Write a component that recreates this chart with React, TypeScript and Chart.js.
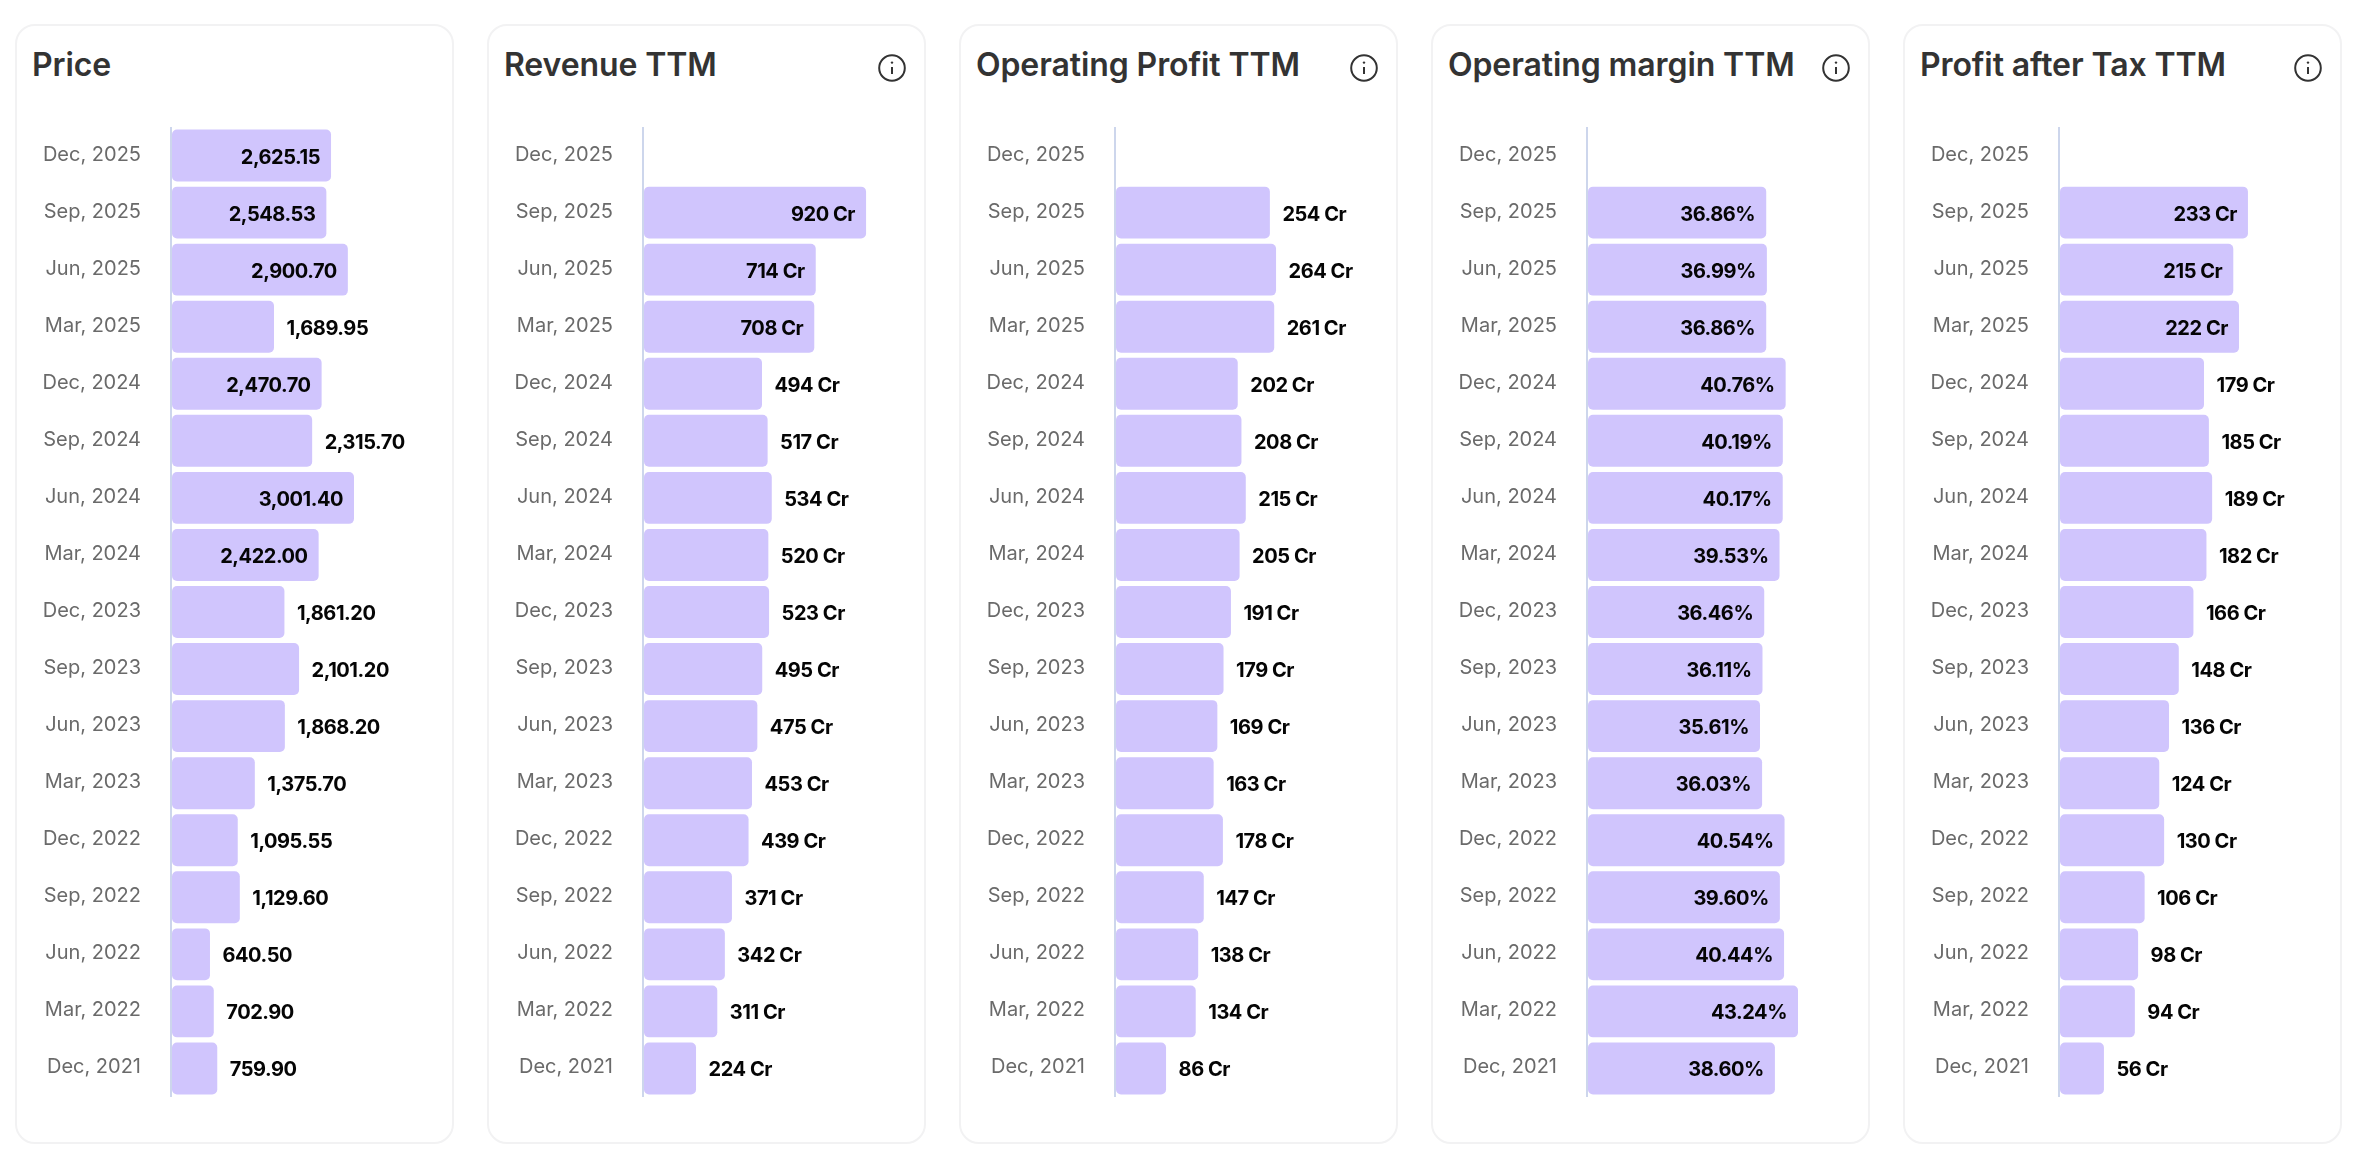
import React, { useEffect, useRef } from "react";
import { Chart, registerables } from "chart.js";

Chart.register(...registerables);

const quarters = ["Dec, 2025","Sep, 2025","Jun, 2025","Mar, 2025","Dec, 2024","Sep, 2024","Jun, 2024","Mar, 2024","Dec, 2023","Sep, 2023","Jun, 2023","Mar, 2023","Dec, 2022","Sep, 2022","Jun, 2022","Mar, 2022","Dec, 2021"];

const price = [2625.15,2548.53,2900.7,1689.95,2470.7,2315.7,3001.4,2422,1861.2,2101.2,1868.2,1375.7,1095.55,1129.6,640.5,702.9,759.9];
const revenue = [null,920,714,708,494,517,534,520,523,495,475,453,439,371,342,311,224];
const operatingProfit = [null,254,264,261,202,208,215,205,191,179,169,163,178,147,138,134,86];
const operatingMargin = [null,36.86,36.99,36.86,40.76,40.19,40.17,39.53,36.46,36.11,35.61,36.03,40.54,39.6,40.44,43.24,38.6];
const profitAfterTax = [null,233,215,222,179,185,189,182,166,148,136,124,130,106,98,94,56];

const FONT = "Inter, 'Noto Sans', sans-serif";
const BAR = "#d0c5fd";
const AXIS = "#cdd6ec";

const fmtPrice = (v: number) => v.toLocaleString("en-US", { minimumFractionDigits: 2, maximumFractionDigits: 2 });
const fmtCr = (v: number) => `${v} Cr`;
const fmtPct = (v: number) => `${v.toFixed(2)}%`;

const panels = [
  { title: "Price", info: false, values: price, format: fmtPrice, zero: 18, pxPerUnit: 0.061, insideFrom: 2400 },
  { title: "Revenue TTM", info: true, values: revenue, format: fmtCr, zero: 11, pxPerUnit: 0.2443, insideFrom: 600 },
  { title: "Operating Profit TTM", info: true, values: operatingProfit, format: fmtCr, zero: 5, pxPerUnit: 0.618, insideFrom: Infinity },
  { title: "Operating margin TTM", info: true, values: operatingMargin, format: fmtPct, zero: 1.07, pxPerUnit: 4.98, insideFrom: 0 },
  { title: "Profit after Tax TTM", info: true, values: profitAfterTax, format: fmtCr, zero: 2, pxPerUnit: 0.8136, insideFrom: 200 },
];

const CARD_W = 439, CARD_PITCH = 472, CARD_LEFT = 15, CARD_TOP = 24, CARD_H = 1120;
const CANVAS_TOP = 127, CANVAS_H = 970, AXIS_W = 156;

function Panel({ panel, index }: { panel: (typeof panels)[number]; index: number }) {
  const ref = useRef<HTMLCanvasElement>(null);
  const left = CARD_LEFT + index * CARD_PITCH;

  useEffect(() => {
    const plotW = CARD_W - AXIS_W;
    const axisPad = 1 / panel.pxPerUnit;
    const xMin = panel.zero - axisPad;
    const labels = {
      id: "valueLabels",
      afterDatasetsDraw(chart: any) {
        const ctx = chart.ctx;
        const meta = chart.getDatasetMeta(0);
        ctx.save();
        ctx.font = `700 20px ${FONT}`;
        ctx.letterSpacing = "-0.45px";
        ctx.fillStyle = "#050505";
        ctx.textBaseline = "middle";
        panel.values.forEach((v: number | null, i: number) => {
          if (v == null) return;
          const el = meta.data[i];
          const inside = v >= panel.insideFrom;
          ctx.textAlign = inside ? "right" : "left";
          ctx.fillText(panel.format(v), el.x + (inside ? -11 : 12.5), el.y + 2);
        });
        ctx.restore();
      },
    };
    const chart = new Chart(ref.current!, {
      type: "bar",
      data: {
        labels: quarters,
        datasets: [{
          data: panel.values as any,
          base: panel.zero,
          backgroundColor: BAR,
          borderRadius: 5,
          borderSkipped: false,
          barPercentage: 0.91,
          categoryPercentage: 1,
        }],
      },
      options: {
        indexAxis: "y",
        animation: false,
        responsive: false,
        devicePixelRatio: 1,
        layout: { padding: 0 },
        plugins: { legend: { display: false }, tooltip: { enabled: false }, title: { display: false } },
        scales: {
          x: { display: false, min: xMin, max: xMin + plotW / panel.pxPerUnit },
          y: {
            afterFit: (s: any) => { s.width = AXIS_W; s.paddingTop = 0; s.paddingBottom = 0; },
            grid: { display: false, drawTicks: false },
            border: { display: true, color: AXIS, width: 2 },
            ticks: { autoSkip: false, padding: 30, labelOffset: -1, color: "#6a6a6a", font: { family: FONT, size: 20, weight: "400" } },
          },
        },
      } as any,
      plugins: [labels],
    });
    return () => chart.destroy();
  }, [panel]);

  return (
    <>
      <div style={{ position: "absolute", left, top: CARD_TOP, width: CARD_W, height: CARD_H, boxSizing: "border-box", border: "2px solid #f2f2f3", borderRadius: 20, background: "#fff" }} />
      <div style={{ position: "absolute", left: left + 17, top: 42, fontFamily: FONT, fontWeight: 600, fontSize: 32, lineHeight: "46px", letterSpacing: "-0.1px", color: "#333", whiteSpace: "nowrap" }}>{panel.title}</div>
      {panel.info && (
        <svg style={{ position: "absolute", left: left + 391, top: 54 }} width="28" height="28" viewBox="0 0 28 28" fill="none" stroke="#333">
          <circle cx="14" cy="14" r="12.8" strokeWidth="2" />
          <line x1="14" y1="13" x2="14" y2="20" strokeWidth="2" />
          <circle cx="14" cy="8.6" r="1.2" fill="#333" stroke="none" />
        </svg>
      )}
      <canvas ref={ref} width={CARD_W} height={CANVAS_H} style={{ position: "absolute", left, top: CANVAS_TOP, width: CARD_W, height: CANVAS_H }} />
    </>
  );
}

export default function App() {
  useEffect(() => { document.body.style.margin = "0"; }, []);
  return (
    <div style={{ position: "relative", width: 2368, height: 1164, background: "#fff", overflow: "hidden" }}>
      {panels.map((p, i) => <Panel key={p.title} panel={p} index={i} />)}
    </div>
  );
}
